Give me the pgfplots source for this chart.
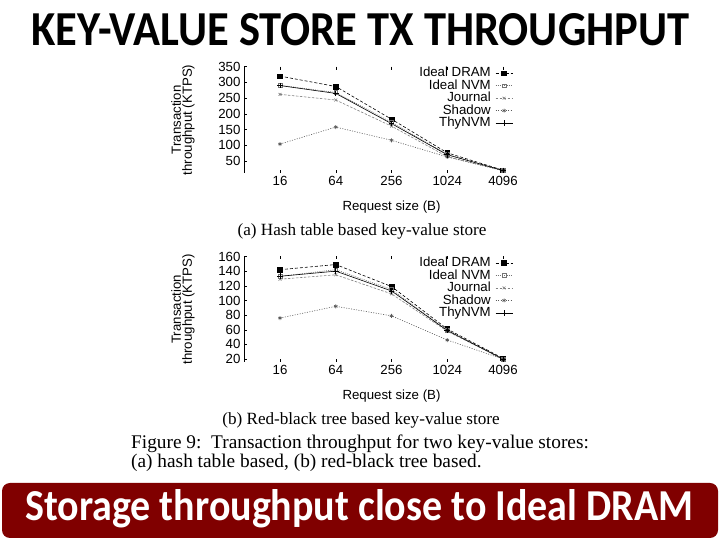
\documentclass[border=0pt]{standalone}
\usepackage{graphicx}
\usepackage{pgfplots}
\pgfplotsset{compat=1.18}
\usepackage{fontspec}
\setmainfont{Liberation Sans}
\newfontfamily\seriffont{Liberation Serif}
\newfontfamily\calibri{Carlito}
\definecolor{boxred}{RGB}{128,0,0}

\pgfplotsset{
 kvstyle/.style={
   scale only axis, width=295bp,
   anchor=south west,
   xmin=-0.646, xmax=4.646,
   xtick={0,1,2,3,4}, xticklabels={16,64,256,1024,4096},
   tick align=inside, major tick length=3bp,
   tick style={black, line width=0.5bp},
   axis line style={draw=none},
   /pgf/number format/assume math mode=true,
   tick label style={font=\fontsize{13.3}{13.3}\selectfont},
   xlabel={Request size (B)},
   ylabel={Transaction\\throughput (KTPS)},
   every axis x label/.style={at={(rel axis cs:0.5,0)}, anchor=center, yshift=-33.7bp, font=\fontsize{13.3}{13.3}\selectfont},
   every axis y label/.style={at={(rel axis cs:0,0.5)}, xshift=-61bp, rotate=90, anchor=center, align=center, font=\fontsize{13.3}{11}\selectfont},
   legend plot pos=right,
   legend cell align=right,
   legend style={draw=none, fill=none, at={(0.912,1)}, anchor=north east, font=\fontsize{13.3}{13.3}\selectfont, row sep=0pt, column sep=4bp, inner sep=0pt, nodes={inner sep=0.5bp, text height=9.5bp, text depth=2bp}},
 },
 sdram/.style={black, line width=0.6bp, dash pattern=on 3bp off 2bp, mark=square*, mark size=2.3bp, mark options={solid}},
 snvm/.style={black!55, line width=0.6bp, dash pattern=on 1bp off 1.2bp, mark=square, mark size=1.8bp, mark options={solid}},
 sjournal/.style={black!50, line width=0.6bp, dash pattern=on 2.5bp off 1.5bp, mark=x, mark size=2bp, mark options={solid}},
 sshadow/.style={black!65, line width=0.6bp, dash pattern=on 1bp off 1.5bp, mark=asterisk, mark size=2bp, mark options={solid}},
 sthy/.style={black, line width=0.6bp, mark=+, mark size=2.8bp},
}

\begin{document}
\begin{tikzpicture}[x=1bp, y=1bp]
\fill[white] (0,0) rectangle (720,540);

% title
\node[anchor=base west, inner sep=0] at (31,494) {\resizebox{658bp}{32bp}{\calibri\bfseries KEY-VALUE STORE TX THROUGHPUT}};

\begin{scope}
\clip (0,0) rectangle (531,540);
% ---- (a) hash table
\begin{axis}[kvstyle, at={(244bp,367bp)}, height=106.3bp, ymin=12, ymax=350,
  ytick={50,100,150,200,250,300,350}]
\addplot[sdram] coordinates {(0,320)(1,287)(2,183)(3,76)(4,21)};
\addlegendentry{Ideal DRAM}
\addplot[snvm] coordinates {(0,291)(1,268)(2,173)(3,71)(4,20)};
\addlegendentry{Ideal NVM}
\addplot[sjournal] coordinates {(0,262)(1,244)(2,161)(3,64)(4,20)};
\addlegendentry{Journal}
\addplot[sshadow] coordinates {(0,104)(1,158)(2,116)(3,63)(4,19)};
\addlegendentry{Shadow}
\addplot[sthy] coordinates {(0,290)(1,265)(2,169)(3,70)(4,20)};
\addlegendentry{ThyNVM}
\draw[black, line width=0.5bp] (rel axis cs:0,1) -- (rel axis cs:0,0) -- (rel axis cs:1,0);
\end{axis}
% ---- (b) red-black tree
\begin{axis}[kvstyle, at={(244bp,178bp)}, height=105.5bp, ymin=16, ymax=160,
  ytick={20,40,60,80,100,120,140,160}]
\addplot[sdram] coordinates {(0,142)(1,149)(2,119)(3,61)(4,21)};
\addlegendentry{Ideal DRAM}
\addplot[snvm] coordinates {(0,133)(1,142)(2,115)(3,59)(4,20)};
\addlegendentry{Ideal NVM}
\addplot[sjournal] coordinates {(0,129)(1,135)(2,109)(3,58)(4,20)};
\addlegendentry{Journal}
\addplot[sshadow] coordinates {(0,76)(1,92)(2,79)(3,46)(4,20)};
\addlegendentry{Shadow}
\addplot[sthy] coordinates {(0,133)(1,140)(2,113)(3,59)(4,20)};
\addlegendentry{ThyNVM}
\draw[black, line width=0.5bp] (rel axis cs:0,1) -- (rel axis cs:0,0) -- (rel axis cs:1,0);
\end{axis}
\end{scope}

% captions
\node[anchor=base, inner sep=0] at (362,304) {\seriffont\fontsize{17.2}{17.2}\selectfont (a) Hash table based key-value store};
\node[anchor=base, inner sep=0] at (361,115) {\seriffont\fontsize{17.2}{17.2}\selectfont (b) Red-black tree based key-value store};
\node[anchor=base west, inner sep=0] at (131,91) {\seriffont\fontsize{19.4}{19.4}\selectfont Figure 9:\ \ Transaction throughput for two key-value stores:};
\node[anchor=base west, inner sep=0] at (131,72) {\seriffont\fontsize{19.4}{19.4}\selectfont (a) hash table based, (b) red-black tree based.};

% bottom banner
\fill[boxred, rounded corners=8bp] (2,57) rectangle (718,2);
\node[anchor=base west, inner sep=0, text=white] at (25,19) {\resizebox{668bp}{31bp}{\calibri\bfseries Storage throughput close to Ideal DRAM}};
\end{tikzpicture}
\end{document}
